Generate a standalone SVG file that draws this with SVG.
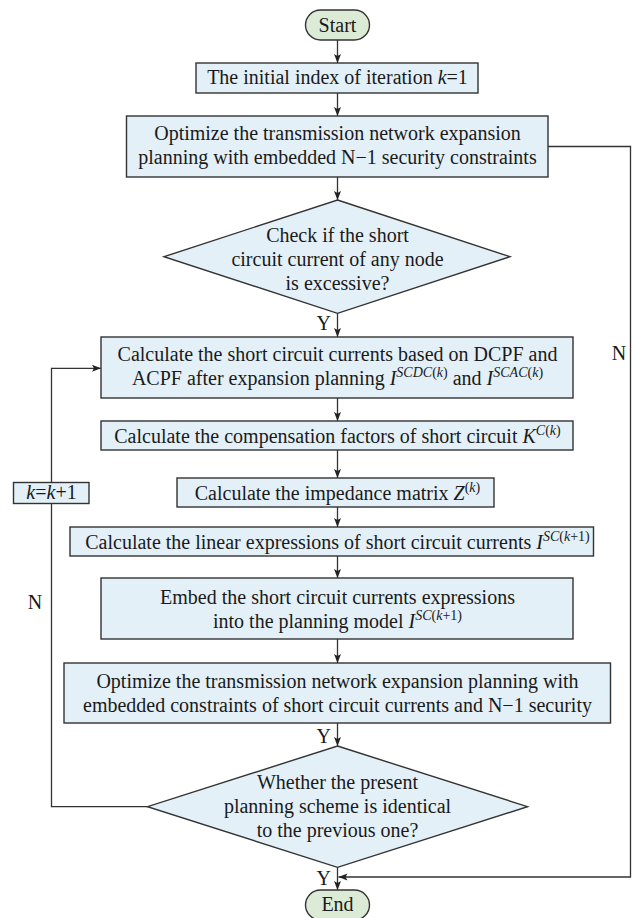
<svg xmlns="http://www.w3.org/2000/svg" width="634" height="918" viewBox="0 0 634 918">
<style>
.box{fill:#e3f0f8;stroke:#333;stroke-width:1.4}
.term{fill:#dceBd6;stroke:#333;stroke-width:1.4}
.t{font-family:"Liberation Serif","Times New Roman",serif;font-size:20px;fill:#1a1a1a;text-anchor:middle}
.l{font-family:"Liberation Serif","Times New Roman",serif;font-size:20px;fill:#1a1a1a}
.sup{font-size:14px}
.i{font-style:italic}
.c{fill:none;stroke:#333;stroke-width:1.3}
</style>
<defs>
<marker id="ah" markerUnits="userSpaceOnUse" markerWidth="10" markerHeight="8" refX="9" refY="3.5" orient="auto">
<path d="M0,0 L9,3.5 L0,7 L2,3.5 z" fill="#222"/>
</marker>
</defs>
<rect width="634" height="918" fill="#ffffff"/>
<g id="connectors">
<path class="c" d="M337.5,40 V63" marker-end="url(#ah)"/>
<path class="c" d="M337.5,93 V116" marker-end="url(#ah)"/>
<path class="c" d="M337.5,177 V200" marker-end="url(#ah)"/>
<path class="c" d="M337.5,313 V337" marker-end="url(#ah)"/>
<path class="c" d="M337.5,398 V421" marker-end="url(#ah)"/>
<path class="c" d="M337.5,450 V478" marker-end="url(#ah)"/>
<path class="c" d="M337.5,507 V527" marker-end="url(#ah)"/>
<path class="c" d="M337.5,556 V578" marker-end="url(#ah)"/>
<path class="c" d="M337.5,639 V663" marker-end="url(#ah)"/>
<path class="c" d="M337.5,723 V746" marker-end="url(#ah)"/>
<path class="c" d="M337.5,867 V890" marker-end="url(#ah)"/>
<path class="c" d="M548,146.5 H630.5 V877 H338.5" marker-end="url(#ah)"/>
<path class="c" d="M147.5,806.7 H51.5 V503.5"/>
<path class="c" d="M51.5,482.5 V368.3 H101" marker-end="url(#ah)"/>
<text class="l" x="331" y="330" text-anchor="end">Y</text>
<text class="l" x="619" y="360" text-anchor="middle">N</text>
<text class="l" x="35" y="609" text-anchor="middle">N</text>
<text class="l" x="331" y="743" text-anchor="end">Y</text>
<text class="l" x="331" y="885" text-anchor="end">Y</text>
</g>
<g id="start">
<rect class="term" x="305.5" y="10" width="64" height="30" rx="15"/>
<text class="t" x="337.5" y="32">Start</text>
</g>
<g id="init">
<rect class="box" x="196" y="63" width="282" height="30"/>
<text class="t" x="337.5" y="84">The initial index of iteration <tspan class="i">k</tspan>=1</text>
</g>
<g id="tnep">
<rect class="box" x="126.5" y="116" width="421.5" height="61"/>
<text class="t" x="337.5" y="140">Optimize the transmission network expansion</text>
<text class="t" x="337.5" y="164">planning with embedded N−1 security constraints</text>
</g>
<g id="check">
<polygon class="box" points="337.5,200 510,256.7 337.5,313.3 164,256.7"/>
<text class="t" x="337.5" y="242">Check if the short</text>
<text class="t" x="337.5" y="266">circuit current of any node</text>
<text class="t" x="337.5" y="290">is excessive?</text>
</g>
<g id="calc-sc">
<rect class="box" x="101" y="337" width="472" height="61"/>
<text class="t" x="337.5" y="361">Calculate the short circuit currents based on DCPF and</text>
<text class="t" x="337.5" y="385">ACPF after expansion planning <tspan class="i">I</tspan><tspan class="sup" dy="-8"><tspan class="i">SCDC</tspan>(<tspan class="i">k</tspan>)</tspan><tspan dy="8"> and </tspan><tspan class="i">I</tspan><tspan class="sup" dy="-8"><tspan class="i">SCAC</tspan>(<tspan class="i">k</tspan>)</tspan></text>
</g>
<g id="calc-k">
<rect class="box" x="101" y="421" width="472" height="29"/>
<text class="t" x="337.5" y="443">Calculate the compensation factors of short circuit <tspan class="i">K</tspan><tspan class="sup" dy="-8"><tspan class="i">C</tspan>(<tspan class="i">k</tspan>)</tspan></text>
</g>
<g id="calc-z">
<rect class="box" x="177" y="478" width="317" height="29"/>
<text class="t" x="337.5" y="500">Calculate the impedance matrix <tspan class="i">Z</tspan><tspan class="sup" dy="-8">(<tspan class="i">k</tspan>)</tspan></text>
</g>
<g id="calc-lin">
<rect class="box" x="70" y="527" width="523.5" height="29"/>
<text class="t" x="337.5" y="549">Calculate the linear expressions of short circuit currents <tspan class="i">I</tspan><tspan class="sup" dy="-8"><tspan class="i">SC</tspan>(<tspan class="i">k</tspan>+1)</tspan></text>
</g>
<g id="embed">
<rect class="box" x="101" y="578" width="472" height="61"/>
<text class="t" x="337.5" y="604">Embed the short circuit currents expressions</text>
<text class="t" x="337.5" y="628">into the planning model <tspan class="i">I</tspan><tspan class="sup" dy="-8"><tspan class="i">SC</tspan>(<tspan class="i">k</tspan>+1)</tspan></text>
</g>
<g id="optimize">
<rect class="box" x="64" y="663" width="546.5" height="60"/>
<text class="t" x="337.5" y="688">Optimize the transmission network expansion planning with</text>
<text class="t" x="337.5" y="712">embedded constraints of short circuit currents and N−1 security</text>
</g>
<g id="whether">
<polygon class="box" points="337.5,746 527.5,806.7 337.5,867.3 147.5,806.7"/>
<text class="t" x="337.5" y="789">Whether the present</text>
<text class="t" x="337.5" y="813">planning scheme is identical</text>
<text class="t" x="337.5" y="837">to the previous one?</text>
</g>
<g id="kinc">
<rect class="box" x="13.5" y="482.5" width="75.5" height="21"/>
<text class="t" x="51.5" y="499"><tspan class="i">k</tspan>=<tspan class="i">k</tspan>+1</text>
</g>
<g id="end">
<rect class="term" x="305.5" y="890" width="64" height="30" rx="15"/>
<text class="t" x="337.5" y="911">End</text>
</g>
</svg>
